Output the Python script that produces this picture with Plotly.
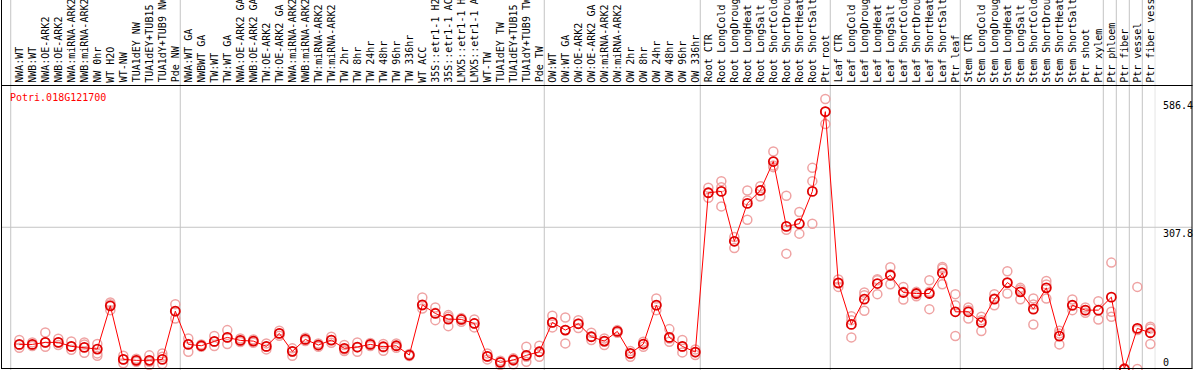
import plotly.graph_objects as go

gene = "Potri.018G121700"

labels = [
    "NWA:WT", "NWB:WT", "NWA:OE-ARK2", "NWB:OE-ARK2", "NWA:miRNA-ARK2", "NWB:miRNA-ARK2",
    "NW 0hr", "WT H2O", "WT-NW", "TUA1dEY NW", "TUA1dEY+TUB15", "TUA1dY+TUB9 NW", "Pde NW",
    "NWA:WT GA", "NWBWT GA", "TW:WT", "TW:WT GA", "NWA:OE-ARK2 GA", "NWB:OE-ARK2 GA",
    "TW:OE-ARK2", "TW:OE-ARK2 GA", "NWA:miRNA-ARK2 GA", "NWB:miRNA-ARK2 GA", "TW:miRNA-ARK2",
    "TW:miRNA-ARK2 GA", "TW 2hr", "TW 8hr", "TW 24hr", "TW 48hr", "TW 96hr", "TW 336hr",
    "WT ACC", "35S::etr1-1 H2O", "35S::etr1-1 ACC", "LMX5::etr1-1 H2O", "LMX5::etr1-1 ACC",
    "WT-TW", "TUA1dEY TW", "TUA1dEY+TUB15 TW", "TUA1dY+TUB9 TW", "Pde TW",
    "OW:WT", "OW:WT GA", "OW:OE-ARK2", "OW:OE-ARK2 GA", "OW:miRNA-ARK2", "OW:miRNA-ARK2 GA",
    "OW 2hr", "OW 8hr", "OW 24hr", "OW 48hr", "OW 96hr", "OW 336hr",
    "Root CTR", "Root LongCold", "Root LongDrought", "Root LongHeat", "Root LongSalt",
    "Root ShortCold", "Root ShortDrought", "Root ShortHeat", "Root ShortSalt", "Ptr root",
    "Leaf CTR", "Leaf LongCold", "Leaf LongDrought", "Leaf LongHeat", "Leaf LongSalt",
    "Leaf ShortCold", "Leaf ShortDrought", "Leaf ShortHeat", "Leaf ShortSalt", "Ptr leaf",
    "Stem CTR", "Stem LongCold", "Stem LongDrought", "Stem LongHeat", "Stem LongSalt",
    "Stem ShortCold", "Stem ShortDrought", "Stem ShortHeat", "Stem ShortSalt", "Ptr shoot",
    "Ptr xylem", "Ptr phloem", "Ptr fiber", "Ptr vessel", "Ptr fiber vessel",
]

group_sizes = [13, 28, 12, 10, 10, 11, 1, 1, 1, 1]

means = [
    53.4, 53.4, 57.8, 57.8, 49.1, 46.9, 43.3, 137.2, 20.9, 18.8, 18.8, 20.9, 125.6,
    53.4, 50.5, 59.9, 68.6, 62.1, 60.6, 49.1, 77.3, 38.3, 64.3, 52.0, 62.8, 44.8, 47.7,
    53.4, 48.4, 50.5, 30.3, 139.3, 120.6, 108.3, 107.6, 98.9, 27.4, 14.4, 19.5, 29.6, 37.5,
    101.1, 84.5, 98.2, 70.0, 60.6, 81.6, 33.9, 54.2, 138.6, 68.6, 49.1, 36.8,
    382.7, 385.6, 277.3, 359.6, 387.7, 450.5, 309.7, 315.5, 385.6, 558.8,
    187.0, 96.8, 151.6, 185.6, 203.6, 166.1, 163.9, 163.9, 208.7, 124.2,
    124.2, 101.1, 151.6, 187.7, 167.5, 130.0, 176.2, 71.5, 138.6, 127.8, 127.8,
    156.0, 0.0, 88.1, 78.7,
]

replicates = [
    [62.8, 52.0, 46.2], [57.8, 52.0, 49.8], [79.4, 57.8, 48.4], [65.7, 57.8, 52.0],
    [59.9, 48.4, 41.9], [57.8, 53.4, 35.4], [54.2, 33.9, 28.9], [144.4, 140.8, 127.8],
    [28.9, 20.9, 12.3], [22.4, 18.8, 15.9], [29.6, 15.9, 8.7], [33.9, 26.7, 10.8],
    [140.8, 125.6, 109.7],
    [66.4, 54.2, 37.5], [53.4, 50.5, 48.4], [71.5, 59.2, 49.8], [84.5, 68.6, 54.2],
    [66.4, 62.1, 58.5], [64.3, 60.6, 57.0], [55.6, 48.4, 42.6], [83.0, 77.3, 72.2],
    [44.8, 37.5, 28.9], [67.9, 64.3, 60.6], [55.6, 52.0, 48.4], [70.0, 62.8, 57.0],
    [52.0, 42.6, 39.0], [57.8, 46.9, 37.5], [56.3, 53.4, 49.8], [54.2, 46.9, 39.7],
    [55.6, 50.5, 46.2], [32.5, 30.3, 28.2], [155.2, 138.6, 131.4], [133.6, 122.0, 106.1],
    [117.0, 113.4, 93.1], [110.5, 107.6, 102.5], [107.6, 98.9, 90.3], [33.9, 27.4, 20.9],
    [18.1, 14.4, 8.7], [23.1, 18.1, 10.1], [48.4, 26.7, 15.9], [50.5, 37.5, 26.7],
    [115.5, 101.1, 90.3], [111.9, 84.5, 55.6], [106.1, 98.9, 88.8], [78.7, 70.0, 62.8],
    [66.4, 59.2, 52.0], [84.5, 81.6, 78.7], [39.0, 32.5, 26.7], [59.2, 54.2, 48.4],
    [153.1, 138.6, 127.8], [86.6, 66.4, 59.2], [62.8, 48.4, 36.1], [42.6, 36.1, 30.3],
    [393.5, 382.7, 371.8], [407.9, 394.9, 353.1], [286.6, 277.3, 262.8], [387.7, 366.1, 324.2],
    [397.1, 387.7, 374.7], [472.2, 441.9, 438.3], [376.2, 302.5, 250.5], [340.8, 315.5, 293.9],
    [436.8, 407.9, 315.5], [586.4, 558.8, 532.1],
    [194.2, 185.6, 178.3], [114.8, 106.1, 68.6], [166.1, 160.3, 126.4], [194.9, 192.8, 162.5],
    [220.9, 205.8, 184.1], [178.3, 167.5, 150.9], [167.5, 162.5, 158.1], [192.8, 167.5, 130.0],
    [221.7, 218.1, 184.1], [162.5, 138.6, 71.5],
    [133.6, 127.8, 109.7], [113.4, 106.1, 82.3], [162.5, 153.1, 138.6], [212.3, 187.0, 163.9],
    [176.2, 172.6, 151.6], [153.1, 140.1, 96.8], [191.3, 183.4, 153.1], [83.0, 77.3, 53.4],
    [150.9, 137.2, 127.8], [133.6, 127.8, 122.0], [147.3, 127.8, 107.6],
    [231.0, 124.2, 113.4], [1.5, 0.5, 0.0], [178.3, 84.5, 0.0], [91.7, 88.1, 54.2],
]

y_ticks = [0, 307.8, 586.4]
y_top = 615.6
label_chars = 14  # the header shows at most this many characters per label

# ---------------------------------------------------------------
W, H = 1194, 370


def px(x):
    return x / W


def py(y):
    return (H - y) / H


xs = list(range(1, len(labels) + 1))
FONT = "DejaVu Sans Mono"

fig = go.Figure()

rep_x, rep_y = [], []
for i, r in enumerate(replicates):
    for v in r:
        rep_x.append(xs[i])
        rep_y.append(v)

fig.add_trace(go.Scatter(
    x=rep_x, y=rep_y, mode="markers", cliponaxis=False, hoverinfo="skip",
    marker=dict(symbol="circle-open", size=9, color="#efa3a3", line=dict(width=1.5)),
    showlegend=False,
))
fig.add_trace(go.Scatter(
    x=xs, y=means, mode="lines+markers", cliponaxis=False,
    line=dict(color="#ff0000", width=1),
    marker=dict(symbol="circle-open", size=9, color="#e00000", line=dict(width=1.8)),
    showlegend=False,
))

# group boundary lines
bounds = [0.34]
c = 0
for g in group_sizes:
    c += g
    bounds.append(c + 0.38)

shapes = []
for b in bounds:
    shapes.append(dict(type="line", xref="x", yref="paper", x0=b, x1=b, y0=0, y1=1,
                       line=dict(color="#c4c4c4", width=1), layer="below"))
# horizontal mid grid line
shapes.append(dict(type="line", xref="paper", yref="y", x0=px(1), x1=px(1192),
                   y0=y_ticks[1], y1=y_ticks[1], line=dict(color="#c4c4c4", width=1), layer="below"))
# frame
shapes.append(dict(type="line", xref="paper", yref="paper", x0=px(1.5), x1=px(1.5), y0=py(368.5), y1=1.01,
                   line=dict(color="black", width=1)))
shapes.append(dict(type="line", xref="paper", yref="paper", x0=px(1192), x1=px(1192), y0=py(368.5), y1=1.01,
                   line=dict(color="black", width=1)))
shapes.append(dict(type="line", xref="paper", yref="paper", x0=px(1), x1=px(1192.5), y0=py(368.5), y1=py(368.5),
                   line=dict(color="black", width=1)))
shapes.append(dict(type="line", xref="paper", yref="paper", x0=px(1), x1=px(1192.5), y0=py(85.5), y1=py(85.5),
                   line=dict(color="black", width=1)))

annotations = []
for x, lab in zip(xs, labels):
    annotations.append(dict(
        x=x, y=py(83.5), xref="x", yref="paper", text=lab[:label_chars], textangle=-90,
        showarrow=False, xanchor="center", yanchor="bottom", borderpad=0,
        font=dict(family=FONT, size=10, color="black"),
    ))

annotations.append(dict(
    x=px(9), y=py(97), xref="paper", yref="paper", text=gene, showarrow=False,
    xanchor="left", yanchor="middle", borderpad=0,
    font=dict(family=FONT, size=10, color="#ff0000"),
))

for t in y_ticks:
    annotations.append(dict(
        x=px(1162), y=t, xref="paper", yref="y", text=("%g" % t), showarrow=False,
        xanchor="left", yanchor=("bottom" if t == 0 else "top"), borderpad=0,
        font=dict(family=FONT, size=10, color="black"),
    ))

fig.update_layout(
    width=W, height=H,
    margin=dict(l=0, r=0, t=0, b=0, autoexpand=False),
    paper_bgcolor="white", plot_bgcolor="white",
    xaxis=dict(range=[-0.408, 88.38], domain=[px(1), px(1155.3)], visible=False,
               showgrid=False, zeroline=False),
    yaxis=dict(range=[0, y_top], domain=[py(369), py(85.5)], visible=False,
               showgrid=False, zeroline=False),
    shapes=shapes,
    annotations=annotations,
    showlegend=False,
)

fig.write_html(
    "out.html",
    config={"displayModeBar": False},
    post_script="document.body.style.margin='0';document.body.style.overflow='hidden';",
)
